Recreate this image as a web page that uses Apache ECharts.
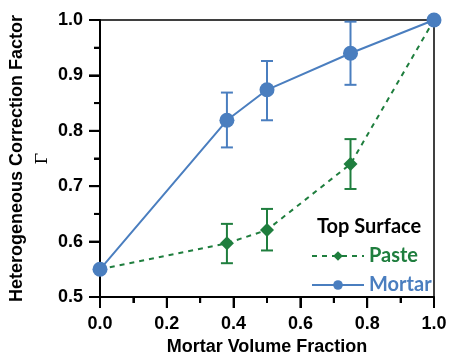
<!DOCTYPE html>
<html>
<head>
<meta charset="utf-8">
<script src="https://cdn.jsdelivr.net/npm/echarts@6/dist/echarts.min.js"></script>
<style>
  html, body { margin: 0; padding: 0; background: #fff; }
  #chart { width: 449px; height: 358px; }
</style>
</head>
<body>
<div id="chart"></div>
<script>
// data
const volumeFraction = [0, 0.38, 0.5, 0.75, 1.0]
const pasteGamma = [0.55, 0.597, 0.621, 0.740, 1.0]
const pasteLow = [null, 0.561, 0.584, 0.695, null]
const pasteHigh = [null, 0.632, 0.659, 0.785, null]
const mortarGamma = [0.55, 0.819, 0.874, 0.940, 1.0]
const mortarLow = [null, 0.770, 0.819, 0.883, null]
const mortarHigh = [null, 0.869, 0.926, 0.997, null]

// tick positions
const xMajorTicks = [0, 0.2, 0.4, 0.6, 0.8, 1.0]
const xMinorTicks = [0.1, 0.3, 0.5, 0.7, 0.9]
const yMajorTicks = [0.5, 0.6, 0.7, 0.8, 0.9, 1.0]
const yMinorTicks = [0.55, 0.65, 0.75, 0.85, 0.95]

const BLUE = '#4a7ebf'
const GREEN = '#1f7e3e'
const FONT = 'Liberation Sans, Arial, sans-serif'

const pairs = (xs, ys) => xs.map((x, i) => [x, ys[i]])
const bars = (xs, lo, hi) => xs.map((x, i) => [x, lo[i], hi[i]]).filter(d => d[1] != null)

function errorBars(color) {
  return function (params, api) {
    const x = api.value(0)
    const lo = api.coord([x, api.value(1)])
    const hi = api.coord([x, api.value(2)])
    const half = 6
    const style = { stroke: color, lineWidth: 2 }
    return {
      type: 'group',
      children: [
        { type: 'line', shape: { x1: lo[0], y1: lo[1], x2: hi[0], y2: hi[1] }, style },
        { type: 'line', shape: { x1: lo[0] - half, y1: lo[1], x2: lo[0] + half, y2: lo[1] }, style },
        { type: 'line', shape: { x1: hi[0] - half, y1: hi[1], x2: hi[0] + half, y2: hi[1] }, style }
      ]
    }
  }
}

const mainAxis = {
  type: 'value',
  axisLine: { show: true, onZero: false, lineStyle: { color: '#000', width: 2 } },
  axisTick: { show: true, length: 11, lineStyle: { color: '#000', width: 2 } },
  minorTick: { show: true, splitNumber: 2, length: 6, lineStyle: { color: '#000', width: 2 } },
  splitLine: { show: false },
  nameMoveOverlap: false,
  axisLabel: { color: '#000', fontFamily: FONT, fontWeight: 'bold', fontSize: 18, formatter: v => v.toFixed(1) },
  nameTextStyle: { color: '#000', fontFamily: FONT, fontWeight: 'bold', fontSize: 18 }
}
// plain lines closing the frame on top and right
const frameAxis = {
  type: 'value',
  axisLine: { show: true, onZero: false, lineStyle: { color: '#000', width: 1.5 } },
  axisTick: { show: false }, axisLabel: { show: false }, splitLine: { show: false }
}

const option = {
  animation: false,
  grid: {
    left: 100, right: 15, top: 20, bottom: 61,
    containLabel: false, outerBoundsMode: 'none'
  },
  title: {
    text: 'Top Surface',
    left: 312, top: 212,
    textStyle: { fontFamily: 'Lato, sans-serif', fontWeight: 'bold', fontSize: 20, color: '#000' }
  },
  legend: {
    orient: 'vertical',
    left: 306, top: 241,
    itemWidth: 52, itemHeight: 12, itemGap: 9,
    textStyle: { fontFamily: 'Lato, sans-serif', fontWeight: 'bold', fontSize: 20 },
    data: [
      { name: 'Paste', textStyle: { color: GREEN } },
      { name: 'Mortar', textStyle: { color: BLUE } }
    ]
  },
  xAxis: [
    Object.assign({}, mainAxis, {
      position: 'bottom', min: 0, max: 1, interval: 0.2,
      name: 'Mortar Volume Fraction',
      nameLocation: 'middle', nameGap: 41,
      axisLabel: Object.assign({}, mainAxis.axisLabel, { margin: 18 })
    }),
    Object.assign({}, frameAxis, { position: 'top', min: 0, max: 1 })
  ],
  yAxis: [
    Object.assign({}, mainAxis, {
      position: 'left', min: 0.5, max: 1, interval: 0.1,
      name: 'Heterogeneous Correction Factor\n{g|Γ}',
      nameLocation: 'middle', nameGap: 45, nameRotate: 90,
      nameTextStyle: Object.assign({}, mainAxis.nameTextStyle, {
        lineHeight: 25,
        rich: { g: { fontFamily: 'DejaVu Serif, serif', fontWeight: 'normal', fontSize: 17, lineHeight: 25, color: '#000' } }
      }),
      axisLabel: Object.assign({}, mainAxis.axisLabel, { margin: 17 })
    }),
    Object.assign({}, frameAxis, { position: 'right', min: 0.5, max: 1 })
  ],
  series: [
    {
      name: 'paste-err', type: 'custom', renderItem: errorBars(GREEN),
      data: bars(volumeFraction, pasteLow, pasteHigh), z: 2, clip: false
    },
    {
      name: 'mortar-err', type: 'custom', renderItem: errorBars(BLUE),
      data: bars(volumeFraction, mortarLow, mortarHigh), z: 2, clip: false
    },
    {
      name: 'Paste', type: 'line', data: pairs(volumeFraction, pasteGamma),
      symbol: 'diamond', symbolSize: 14, showAllSymbol: true, clip: false, z: 3,
      itemStyle: { color: GREEN },
      lineStyle: { color: GREEN, width: 2, type: [5, 5] }
    },
    {
      name: 'Mortar', type: 'line', data: pairs(volumeFraction, mortarGamma),
      symbol: 'circle', symbolSize: 15, showAllSymbol: true, clip: false, z: 4,
      itemStyle: { color: BLUE },
      lineStyle: { color: BLUE, width: 2 }
    }
  ]
}

const chart = echarts.init(document.getElementById('chart'))
chart.setOption(option)

// outward ticks drawn as graphic lines, placed through the grid's own scales
const toPx = p => chart.convertToPixel({ gridIndex: 0 }, p)
const tickStyle = { stroke: '#000', lineWidth: 2 }
const tickLines = []
const addX = (v, len) => {
  const p = toPx([v, 0.5])
  tickLines.push({ type: 'line', z: 100, silent: true, shape: { x1: p[0], y1: p[1], x2: p[0], y2: p[1] + len }, style: tickStyle })
}
const addY = (v, len) => {
  const p = toPx([0, v])
  tickLines.push({ type: 'line', z: 1, silent: true, shape: { x1: p[0] - len, y1: p[1], x2: p[0], y2: p[1] }, style: tickStyle })
}
xMajorTicks.forEach(v => addX(v, 11))
xMinorTicks.forEach(v => addX(v, 6))
yMajorTicks.forEach(v => addY(v, 11))
yMinorTicks.forEach(v => addY(v, 6))
chart.setOption({ graphic: tickLines })
</script>
</body>
</html>
